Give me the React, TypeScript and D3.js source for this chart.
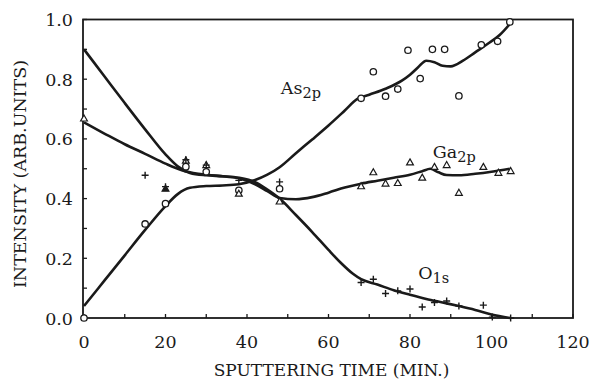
import React from "react";
import * as d3 from "d3";

// measured points
const asTime = [0, 15, 20, 25, 30, 38, 48, 68, 71, 74, 77, 79.5, 82.5, 85.5, 88.5, 92, 97.5, 101.5, 104.5];
const asVal = [0.0, 0.315, 0.383, 0.507, 0.49, 0.428, 0.433, 0.736, 0.825, 0.743, 0.767, 0.897, 0.802, 0.9, 0.9, 0.744, 0.915, 0.927, 0.992];

const gaTime = [0, 20, 25, 30, 38, 48, 68, 71, 74, 77, 80, 83, 86, 89, 92, 98, 101.7, 104.7];
const gaVal = [0.668, 0.433, 0.527, 0.512, 0.416, 0.39, 0.441, 0.488, 0.45, 0.452, 0.521, 0.47, 0.506, 0.512, 0.419, 0.506, 0.486, 0.492];

const oTime = [15, 20, 25, 30, 38, 48, 68, 71, 74, 77, 80, 83, 86, 89, 92, 98, 100.2, 104.7];
const oVal = [0.478, 0.44, 0.53, 0.512, 0.461, 0.456, 0.119, 0.13, 0.082, 0.091, 0.097, 0.037, 0.052, 0.057, 0.04, 0.043, 0.003, 0.0];

// fitted curves
const asFitT = [0, 5, 10, 15, 20, 23, 26, 30, 34, 38, 42, 45, 48, 52, 56, 60, 64, 67, 70, 74, 78, 80, 82, 84, 86, 88, 90, 93, 96, 99, 102, 104.5];
const asFitV = [0.04, 0.125, 0.21, 0.295, 0.375, 0.415, 0.436, 0.442, 0.444, 0.448, 0.462, 0.48, 0.505, 0.552, 0.598, 0.645, 0.695, 0.733, 0.748, 0.768, 0.795, 0.815, 0.84, 0.862, 0.857, 0.845, 0.843, 0.862, 0.89, 0.918, 0.948, 0.985];

const gaFitT = [0, 5, 10, 15, 20, 24, 28, 33, 38, 42, 45, 48, 52, 56, 60, 64, 68, 72, 76, 80, 83, 85, 87, 89, 92, 96, 100, 104.5];
const gaFitV = [0.655, 0.618, 0.582, 0.55, 0.517, 0.495, 0.483, 0.476, 0.468, 0.448, 0.425, 0.402, 0.398, 0.405, 0.42, 0.437, 0.45, 0.46, 0.47, 0.48, 0.492, 0.5, 0.488, 0.479, 0.478, 0.483, 0.49, 0.5];

const oFitT = [0, 5, 10, 15, 20, 23, 26, 30, 34, 38, 42, 45, 48, 52, 56, 60, 63, 66, 68, 72, 76, 80, 84, 88, 92, 96, 100, 104.5];
const oFitV = [0.9, 0.81, 0.72, 0.632, 0.548, 0.508, 0.486, 0.478, 0.475, 0.47, 0.455, 0.43, 0.4, 0.345, 0.288, 0.228, 0.185, 0.148, 0.13, 0.112, 0.093, 0.078, 0.064, 0.052, 0.04, 0.027, 0.012, 0.0];

const xTicks = [0, 20, 40, 60, 80, 100, 120];
const yTicks = [0, 0.2, 0.4, 0.6, 0.8, 1.0];

const font = "'DejaVu Serif', serif";
const ink = "#1a1a1a";

export default function App() {
  const width = 594;
  const height = 381;

  const x = d3.scaleLinear().domain([0, 120]).range([84, 573]);
  const y = d3.scaleLinear().domain([0, 1]).range([318, 19.5]);

  const line = d3
    .line<[number, number]>()
    .x((d) => x(d[0]))
    .y((d) => y(d[1]))
    .curve(d3.curveMonotoneX);

  const zip = (t: number[], v: number[]) => t.map((d, i) => [d, v[i]] as [number, number]);

  const minorX = d3.range(0, 121, 10);
  const minorY = d3.range(0, 1.001, 0.1);

  const tri = (cx: number, cy: number) =>
    `M${cx},${cy - 3.6}L${cx + 3.4},${cy + 2.4}L${cx - 3.4},${cy + 2.4}Z`;

  return (
    <svg width={width} height={height} style={{ position: "absolute", left: 0, top: 0, background: "#fff" }}>
      {/* frame */}
      <rect x={x(0) - 1} y={y(1)} width={x(120) - x(0) + 1} height={y(0) - y(1)} fill="none" stroke={ink} strokeWidth={1.8} />

      {/* ticks, inward */}
      {minorX.map((t) => (
        <line key={"xt" + t} x1={x(t)} x2={x(t)} y1={y(0)} y2={y(0) - 4} stroke={ink} strokeWidth={1.3} />
      ))}
      {minorY.map((t) => (
        <line key={"yt" + t} x1={x(0) - 1} x2={x(0) + 3} y1={y(t)} y2={y(t)} stroke={ink} strokeWidth={1.3} />
      ))}

      {xTicks.map((t) => (
        <text key={"xl" + t} x={x(t)} y={348} textAnchor="middle" fontFamily={font} fontSize={17.5} fill={ink}>
          {t}
        </text>
      ))}
      {yTicks.map((t) => (
        <text key={"yl" + t} x={73} y={y(t) + 6.5} textAnchor="end" fontFamily={font} fontSize={17.5} fill={ink}>
          {t.toFixed(1)}
        </text>
      ))}

      <text x={331.5} y={376} textAnchor="middle" fontFamily={font} fontSize={17} fill={ink}>
        SPUTTERING TIME (MIN.)
      </text>
      <text
        transform={`translate(25.5, 174) rotate(-90)`}
        textAnchor="middle"
        fontFamily={font}
        fontSize={17.5}
        fill={ink}
      >
        INTENSITY (ARB.UNITS)
      </text>

      {/* fitted curves */}
      <path d={line(zip(asFitT, asFitV)) || ""} fill="none" stroke={ink} strokeWidth={2.6} />
      <path d={line(zip(gaFitT, gaFitV)) || ""} fill="none" stroke={ink} strokeWidth={2.6} />
      <path d={line(zip(oFitT, oFitV)) || ""} fill="none" stroke={ink} strokeWidth={2.6} />

      {/* markers */}
      {asTime.map((t, i) => (
        <circle key={"a" + i} cx={x(t)} cy={y(asVal[i])} r={3.2} fill="#fff" stroke={ink} strokeWidth={1.3} />
      ))}
      {gaTime.map((t, i) => (
        <path key={"g" + i} d={tri(x(t), y(gaVal[i]))} fill={t === 20 ? ink : "#fff"} stroke={ink} strokeWidth={1.2} />
      ))}
      {oTime.map((t, i) => (
        <path
          key={"o" + i}
          d={`M${x(t) - 3.5},${y(oVal[i])}H${x(t) + 3.5}M${x(t)},${y(oVal[i]) - 3.5}V${y(oVal[i]) + 3.5}`}
          stroke={ink}
          strokeWidth={1.4}
        />
      ))}

      {/* labels */}
      <text x={x(48.3)} y={y(0.75)} fontFamily={font} fontSize={17.5} fill={ink}>
        As<tspan fontSize={14.5} dy={4}>2p</tspan>
      </text>
      <text x={x(85.6)} y={y(0.536)} fontFamily={font} fontSize={17.5} fill={ink}>
        Ga<tspan fontSize={14.5} dy={4}>2p</tspan>
      </text>
      <text x={x(82)} y={y(0.13)} fontFamily={font} fontSize={17.5} fill={ink}>
        O<tspan fontSize={14.5} dy={4}>1s</tspan>
      </text>
    </svg>
  );
}
